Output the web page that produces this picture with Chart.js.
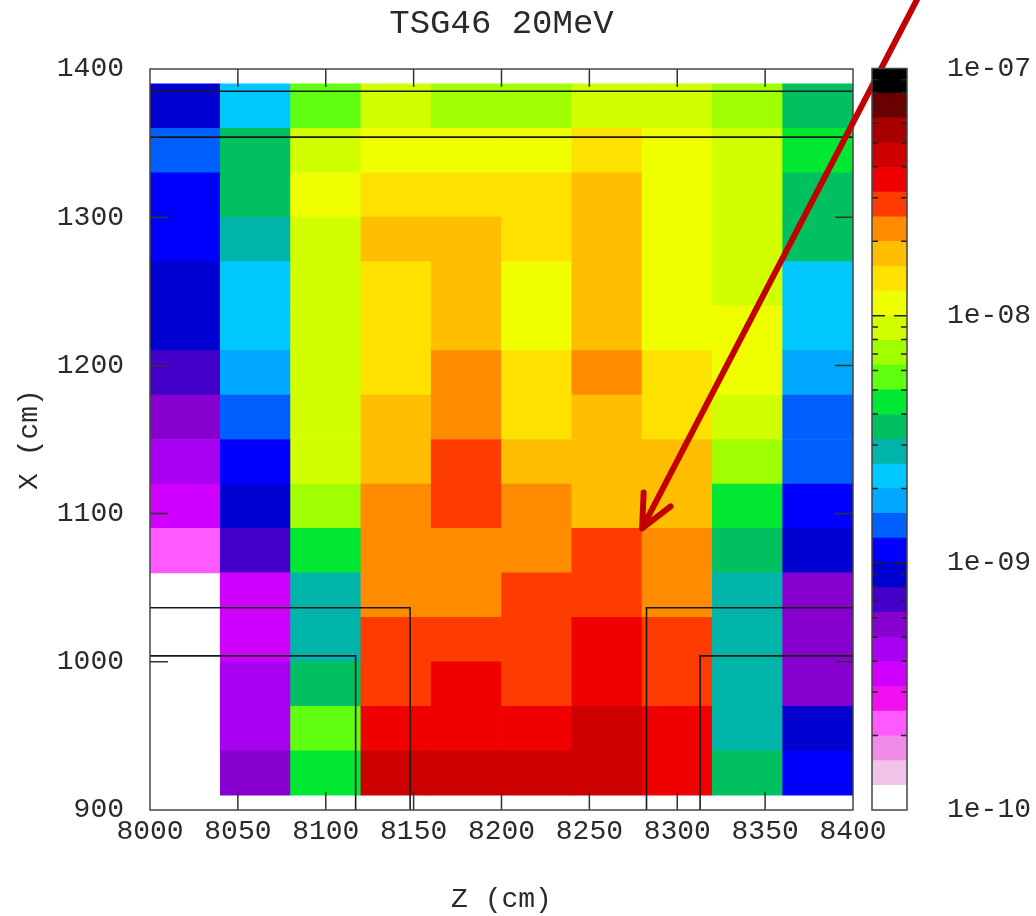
<!DOCTYPE html>
<html>
<head>
<meta charset="utf-8">
<script src="https://cdn.jsdelivr.net/npm/chart.js@4/dist/chart.umd.min.js"></script>
<style>
  html, body { margin: 0; padding: 0; background: #ffffff; }
  #wrap { position: relative; width: 1036px; height: 916px; overflow: hidden; }
  #wrap canvas { position: absolute; left: 0; top: 0; }
</style>
</head>
<body>
<div id="wrap">
  <canvas id="main" width="1036" height="916"></canvas>
  <canvas id="cbar" width="1036" height="916"></canvas>
</div>
<script>
// ---------------- text ----------------
const TITLE = 'TSG46 20MeV';
const Z_LABEL = 'Z (cm)';
const X_LABEL = 'X (cm)';

// ---------------- bins ----------------
// Z bin lower edges (cm), width 40
const zBinStarts = [8000, 8040, 8080, 8120, 8160, 8200, 8240, 8280, 8320, 8360];
const Z_BIN_WIDTH = 40;
// X bin lower edges (cm), top row first, height 30
const xBinStarts = [1360, 1330, 1300, 1270, 1240, 1210, 1180, 1150, 1120, 1090, 1060, 1030, 1000, 970, 940, 910];
const X_BIN_HEIGHT = 30;

// ---------------- values (one array per X row, Z ascending) ----------------
const row1360 = [8.9e-10, 2.2e-9, 5.6e-9, 8.9e-9, 7.1e-9, 7.1e-9, 8.9e-9, 8.9e-9, 7.1e-9, 3.5e-9];
const row1330 = [1.4e-9, 3.5e-9, 8.9e-9, 1.1e-8, 1.1e-8, 1.1e-8, 1.4e-8, 1.1e-8, 8.9e-9, 4.5e-9];
const row1300 = [1.1e-9, 3.5e-9, 1.1e-8, 1.4e-8, 1.4e-8, 1.4e-8, 1.8e-8, 1.1e-8, 8.9e-9, 3.5e-9];
const row1270 = [1.1e-9, 2.8e-9, 8.9e-9, 1.8e-8, 1.8e-8, 1.4e-8, 1.8e-8, 1.1e-8, 8.9e-9, 3.5e-9];
const row1240 = [8.9e-10, 2.2e-9, 8.9e-9, 1.4e-8, 1.8e-8, 1.1e-8, 1.8e-8, 1.1e-8, 8.9e-9, 2.2e-9];
const row1210 = [8.9e-10, 2.2e-9, 8.9e-9, 1.4e-8, 1.8e-8, 1.1e-8, 1.8e-8, 1.1e-8, 1.1e-8, 2.2e-9];
const row1180 = [7.1e-10, 1.8e-9, 8.9e-9, 1.4e-8, 2.2e-8, 1.4e-8, 2.2e-8, 1.4e-8, 1.1e-8, 1.8e-9];
const row1150 = [5.6e-10, 1.4e-9, 8.9e-9, 1.8e-8, 2.2e-8, 1.4e-8, 1.8e-8, 1.4e-8, 8.9e-9, 1.4e-9];
const row1120 = [4.5e-10, 1.1e-9, 8.9e-9, 1.8e-8, 2.8e-8, 1.8e-8, 1.8e-8, 1.8e-8, 7.1e-9, 1.4e-9];
const row1090 = [3.5e-10, 8.9e-10, 7.1e-9, 2.2e-8, 2.8e-8, 2.2e-8, 1.8e-8, 1.8e-8, 4.5e-9, 1.1e-9];
const row1060 = [2.2e-10, 7.1e-10, 4.5e-9, 2.2e-8, 2.2e-8, 2.2e-8, 2.8e-8, 2.2e-8, 3.5e-9, 8.9e-10];
const row1030 = [null, 3.5e-10, 2.8e-9, 2.2e-8, 2.2e-8, 2.8e-8, 2.8e-8, 2.2e-8, 2.8e-9, 5.6e-10];
const row1000 = [null, 3.5e-10, 2.8e-9, 2.8e-8, 2.8e-8, 2.8e-8, 3.5e-8, 2.8e-8, 2.8e-9, 5.6e-10];
const row970  = [null, 4.5e-10, 3.5e-9, 2.8e-8, 3.5e-8, 2.8e-8, 3.5e-8, 2.8e-8, 2.8e-9, 5.6e-10];
const row940  = [null, 4.5e-10, 5.6e-9, 3.5e-8, 3.5e-8, 3.5e-8, 4.5e-8, 3.5e-8, 2.8e-9, 8.9e-10];
const row910  = [null, 5.6e-10, 4.5e-9, 4.5e-8, 4.5e-8, 4.5e-8, 4.5e-8, 3.5e-8, 3.5e-9, 1.1e-9];
const rows = [row1360, row1330, row1300, row1270, row1240, row1210, row1180, row1150,
              row1120, row1090, row1060, row1030, row1000, row970, row940, row910];

// ---------------- axes ----------------
const zTicks = [8000, 8050, 8100, 8150, 8200, 8250, 8300, 8350, 8400];
const xTicks = [900, 1000, 1100, 1200, 1300, 1400];
const cbTicks = [1e-10, 1e-9, 1e-8, 1e-7];
const cbTickLabels = ['1e-10', '1e-09', '1e-08', '1e-07'];

// colour levels, lowest first (10 per decade, 1e-10 .. 1e-7)
const palette = ['#ffffff', '#f0c4e8', '#f08ce8', '#ff5aff', '#f010f0', '#d000ff', '#a800f0', '#8800d0', '#4400c8', '#0000d0',
                 '#0000ff', '#0060ff', '#00a8ff', '#00c8ff', '#00b4aa', '#00c060', '#00e832', '#60ff10', '#a0ff00', '#d2ff00',
                 '#f0ff00', '#ffe100', '#ffbe00', '#ff8c00', '#ff3c00', '#f00000', '#cc0000', '#a80000', '#6b0000', '#000000'];
const LOG_MIN = -10, LOG_MAX = -7;

// ---------------- geometry outline (Z, X in cm) ----------------
const outlineTopZ = [8000, 8400],           outlineTopX = [1385, 1385];
const outlineTop2Z = [8000, 8400],          outlineTop2X = [1354, 1354];
const wallLeftOuterZ = [8000, 8148, 8148],  wallLeftOuterX = [1036.5, 1036.5, 900];
const wallLeftInnerZ = [8000, 8117, 8117],  wallLeftInnerX = [1004, 1004, 900];
const wallRightOuterZ = [8400, 8282.5, 8282.5], wallRightOuterX = [1036.5, 1036.5, 900];
const wallRightInnerZ = [8400, 8313, 8313], wallRightInnerX = [1004, 1004, 900];

// ---------------- annotation arrow (Z, X in cm) ----------------
const arrowFrom = { z: 8440, x: 1455 };
const arrowTo = { z: 8280, x: 1090 };

// ---------------- build ----------------
const FONT = "'Liberation Mono', 'DejaVu Sans Mono', monospace";
const TEXT = '#2a2a2a';
const levels = palette.length;
function levelColor(v) {
  let k = Math.floor((Math.log10(v) - LOG_MIN) * levels / (LOG_MAX - LOG_MIN) + 1e-9);
  k = Math.max(0, Math.min(levels - 1, k));
  return palette[k];
}

const cells = [];
rows.forEach((row, r) => row.forEach((v, c) => {
  if (v == null) return;
  cells.push({ x: zBinStarts[c] + Z_BIN_WIDTH / 2, y: [xBinStarts[r], xBinStarts[r] + X_BIN_HEIGHT], v });
}));

const outlines = [
  [outlineTopZ, outlineTopX], [outlineTop2Z, outlineTop2X],
  [wallLeftOuterZ, wallLeftOuterX], [wallLeftInnerZ, wallLeftInnerX],
  [wallRightOuterZ, wallRightOuterX], [wallRightInnerZ, wallRightInnerX]
];

const lineSets = outlines.map(([zs, xs]) => ({
  type: 'line',
  data: zs.map((z, i) => ({ x: z, y: xs[i] })),
  borderColor: '#1a1a1a', borderWidth: 1.6, pointRadius: 0, fill: false, tension: 0,
  order: 1, clip: false
}));

const TICK_LEN = 18;
const frameAndArrow = {
  id: 'frameAndArrow',
  afterDatasetsDraw(chart) {
    const { ctx, chartArea: { left, right, top, bottom }, scales: { x, y } } = chart;
    ctx.save();
    ctx.strokeStyle = '#333333';
    ctx.lineWidth = 1.5;
    ctx.beginPath();
    x.ticks.forEach(t => {
      if (t.value <= x.min || t.value >= x.max) return;
      const px = x.getPixelForValue(t.value);
      ctx.moveTo(px, bottom); ctx.lineTo(px, bottom - TICK_LEN);
      ctx.moveTo(px, top); ctx.lineTo(px, top + TICK_LEN);
    });
    y.ticks.forEach(t => {
      if (t.value <= y.min || t.value >= y.max) return;
      const py = y.getPixelForValue(t.value);
      ctx.moveTo(left, py); ctx.lineTo(left + TICK_LEN, py);
      ctx.moveTo(right, py); ctx.lineTo(right - TICK_LEN, py);
    });
    ctx.stroke();
    ctx.strokeStyle = '#444444';
    ctx.strokeRect(left, top, right - left, bottom - top);
    ctx.restore();
  },
  afterDraw(chart) {
    const { ctx, scales: { x, y } } = chart;
    const x0 = x.getPixelForValue(arrowFrom.z), y0 = y.getPixelForValue(arrowFrom.x);
    const x1 = x.getPixelForValue(arrowTo.z), y1 = y.getPixelForValue(arrowTo.x);
    const ang = Math.atan2(y0 - y1, x0 - x1);
    const head = 36, spread = 25 * Math.PI / 180;
    ctx.save();
    ctx.strokeStyle = '#c20000';
    ctx.lineWidth = 6;
    ctx.lineCap = 'round';
    ctx.lineJoin = 'round';
    ctx.beginPath();
    ctx.moveTo(x0, y0); ctx.lineTo(x1, y1);
    ctx.moveTo(x1 + head * Math.cos(ang - spread), y1 + head * Math.sin(ang - spread));
    ctx.lineTo(x1, y1);
    ctx.lineTo(x1 + head * Math.cos(ang + spread), y1 + head * Math.sin(ang + spread));
    ctx.stroke();
    ctx.restore();
  }
};

new Chart(document.getElementById('main'), {
  type: 'bar',
  data: {
    datasets: [
      {
        type: 'bar',
        data: cells,
        backgroundColor: cells.map(d => levelColor(d.v)),
        borderWidth: 0,
        barPercentage: 1,
        categoryPercentage: 1,
        order: 2
      },
      ...lineSets
    ]
  },
  options: {
    responsive: false,
    animation: false,
    devicePixelRatio: 1,
    layout: { padding: { left: 0, right: 183, top: 0, bottom: 0 } },
    plugins: {
      legend: { display: false },
      tooltip: { enabled: false },
      title: {
        display: true, text: TITLE, fullSize: false, color: TEXT,
        font: { family: FONT, size: 34, weight: 'normal', lineHeight: 1.2 },
        padding: { top: 4, bottom: 24.2 }
      }
    },
    scales: {
      x: {
        type: 'linear', min: 8000, max: 8400, offset: false,
        grid: { display: false }, border: { display: false },
        afterBuildTicks: s => { s.ticks = zTicks.map(v => ({ value: v })); },
        ticks: { color: TEXT, font: { family: FONT, size: 28 }, padding: -3, maxRotation: 0, autoSkip: false,
                 callback: v => String(v) },
        title: { display: true, text: Z_LABEL, color: TEXT, font: { family: FONT, size: 28 }, padding: { top: 0, bottom: 0 } },
        afterFit: s => { s.height = 106; }
      },
      y: {
        type: 'linear', min: 900, max: 1400,
        grid: { display: false }, border: { display: false },
        afterBuildTicks: s => { s.ticks = xTicks.map(v => ({ value: v })); },
        ticks: { color: TEXT, font: { family: FONT, size: 28 }, padding: 18, autoSkip: false,
                 callback: v => String(v) },
        title: { display: true, text: X_LABEL, color: TEXT, font: { family: FONT, size: 28 }, padding: { top: 13, bottom: 0 } },
        afterFit: s => { s.width = 150; }
      }
    }
  },
  plugins: [frameAndArrow]
});

// ---------------- colour bar ----------------
const cbFrame = {
  id: 'cbFrame',
  afterDatasetsDraw(chart) {
    const { ctx, chartArea: { left, right, top, bottom }, scales: { y } } = chart;
    ctx.save();
    ctx.strokeStyle = '#222222';
    ctx.lineWidth = 1.5;
    ctx.beginPath();
    for (let e = LOG_MIN; e < LOG_MAX; e++) {
      for (let m = 1; m <= 9; m++) {
        if (m === 1 && e === LOG_MIN) continue;
        const py = y.getPixelForValue(m * Math.pow(10, e));
        const len = m === 1 ? 13 : 6;
        ctx.moveTo(left, py); ctx.lineTo(left + len, py);
        ctx.moveTo(right, py); ctx.lineTo(right - len, py);
      }
    }
    ctx.stroke();
    ctx.strokeStyle = '#444444';
    ctx.strokeRect(left, top, right - left, bottom - top);
    ctx.restore();
  }
};

new Chart(document.getElementById('cbar'), {
  type: 'bar',
  data: {
    labels: [''],
    datasets: palette.map((c, k) => ({
      data: [[Math.pow(10, LOG_MIN + k / 10), Math.pow(10, LOG_MIN + (k + 1) / 10)]],
      backgroundColor: c,
      borderWidth: 0,
      grouped: false,
      barPercentage: 1,
      categoryPercentage: 1
    }))
  },
  options: {
    responsive: false,
    animation: false,
    devicePixelRatio: 1,
    layout: { padding: { left: 872, right: 0, top: 68.5, bottom: 106 } },
    plugins: { legend: { display: false }, tooltip: { enabled: false }, title: { display: false } },
    scales: {
      x: { display: false },
      y: {
        type: 'logarithmic', position: 'right', min: 1e-10, max: 1e-7,
        grid: { display: false }, border: { display: false },
        afterBuildTicks: s => { s.ticks = cbTicks.map(v => ({ value: v })); },
        ticks: { color: TEXT, font: { family: FONT, size: 28 }, padding: 32, autoSkip: false,
                 callback: (v, i) => cbTickLabels[i] },
        afterFit: s => { s.width = 129; }
      }
    }
  },
  plugins: [cbFrame]
});
</script>
</body>
</html>
